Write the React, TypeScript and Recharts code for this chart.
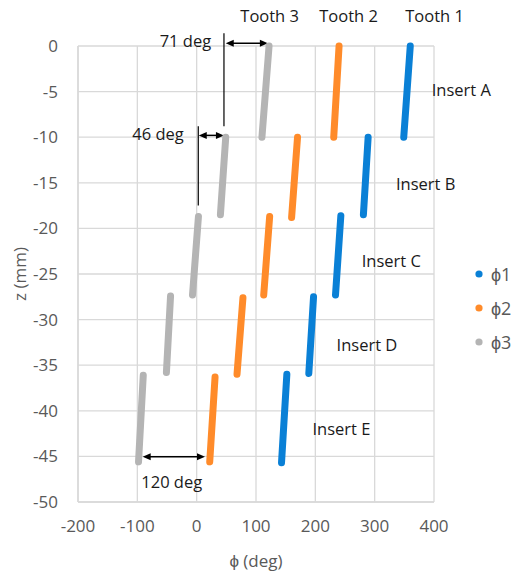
import React from 'react';
import { ScatterChart, Scatter, XAxis, YAxis, CartesianGrid, Legend, ReferenceLine, ReferenceDot } from 'recharts';

// Segment endpoints [phi (deg), z (mm)] for each tooth/insert
const phi1Segments = [
  [{ phi: 349, z: -10 }, { phi: 360, z: 0 }],
  [{ phi: 281, z: -18.5 }, { phi: 289, z: -10 }],
  [{ phi: 234, z: -27.3 }, { phi: 243, z: -18.6 }],
  [{ phi: 189, z: -35.9 }, { phi: 197, z: -27.5 }],
  [{ phi: 143, z: -45.7 }, { phi: 152, z: -36 }],
];
const phi2Segments = [
  [{ phi: 231, z: -10 }, { phi: 240, z: 0 }],
  [{ phi: 160, z: -18.8 }, { phi: 170, z: -10 }],
  [{ phi: 113, z: -27.3 }, { phi: 123, z: -18.7 }],
  [{ phi: 68, z: -36 }, { phi: 78, z: -27.6 }],
  [{ phi: 22, z: -45.6 }, { phi: 31, z: -36.3 }],
];
const phi3Segments = [
  [{ phi: 110, z: -10 }, { phi: 122, z: 0 }],
  [{ phi: 40, z: -18.5 }, { phi: 49, z: -10 }],
  [{ phi: -7, z: -27.3 }, { phi: 3, z: -18.7 }],
  [{ phi: -51, z: -35.8 }, { phi: -44, z: -27.4 }],
  [{ phi: -98, z: -45.6 }, { phi: -90, z: -36.1 }],
];
const seriesNames = ['ϕ1', 'ϕ2', 'ϕ3'];
const seriesColors = ['#0A80D6', '#FF8B2A', '#B4B4B4'];

const xTicks = [-200, -100, 0, 100, 200, 300, 400];
const yTicks = [0, -5, -10, -15, -20, -25, -30, -35, -40, -45, -50];

// Text annotations [phi, z, text]
const toothLabels = [
  { phi: 123, z: 3.3, text: 'Tooth 3' },
  { phi: 256, z: 3.3, text: 'Tooth 2' },
  { phi: 401, z: 3.3, text: 'Tooth 1' },
];
const insertLabels = [
  { phi: 446, z: -4.8, text: 'Insert A' },
  { phi: 386, z: -15.1, text: 'Insert B' },
  { phi: 328, z: -23.5, text: 'Insert C' },
  { phi: 287, z: -32.7, text: 'Insert D' },
  { phi: 244, z: -41.9, text: 'Insert E' },
];
const angleLabels = [
  { phi: -19, z: 0.6, text: '71 deg' },
  { phi: -65, z: -9.6, text: '46 deg' },
  { phi: -42, z: -47.8, text: '120 deg' },
];
// Double-headed arrows
const arrows = [
  { from: { phi: 49, z: 0.3 }, to: { phi: 120, z: 0.3 } },
  { from: { phi: 3.5, z: -9.8 }, to: { phi: 46, z: -9.8 } },
  { from: { phi: -91, z: -45.05 }, to: { phi: 14, z: -45.05 } },
];
// Vertical guide lines
const guides = [
  { phi: 46, zTop: 1.4, zBottom: -8.8 },
  { phi: 2.7, zTop: -8.8, zBottom: -17.5 },
];

const FONT = '"Open Sans", sans-serif';
const TEXT_COLOR = '#1a1a1a';
const AXIS_TEXT = '#595959';

const ArrowShape = (props: any) => {
  const { x1, y1, x2, y2 } = props;
  const L = 8;
  const W = 3.5;
  const dir = x2 > x1 ? 1 : -1;
  return (
    <g>
      <line x1={x1 + dir * 4} y1={y1} x2={x2 - dir * 4} y2={y2} stroke="#000" strokeWidth={1.5} />
      <polygon points={`${x1},${y1} ${x1 + dir * L},${y1 - W} ${x1 + dir * L},${y1 + W}`} fill="#000" />
      <polygon points={`${x2},${y2} ${x2 - dir * L},${y2 - W} ${x2 - dir * L},${y2 + W}`} fill="#000" />
    </g>
  );
};

const GuideShape = (props: any) => {
  const { x1, y1, x2, y2 } = props;
  return <line x1={x1} y1={y1} x2={x2} y2={y2} stroke="#000" strokeWidth={1.2} />;
};

const makeTextShape = (text: string) => (props: any) => {
  const { cx, cy } = props;
  return (
    <text x={cx} y={cy} textAnchor="middle" dominantBaseline="central" fontFamily={FONT} fontSize={16.5} fill={TEXT_COLOR}>
      {text}
    </text>
  );
};

const LegendContent = (props: any) => {
  const items = (props.payload || []).filter((p: any) => p.type !== 'none');
  return (
    <ul style={{ listStyle: 'none', margin: 0, padding: 0 }}>
      {items.map((p: any, i: number) => (
        <li key={i} style={{ display: 'flex', alignItems: 'center', height: 34, whiteSpace: 'nowrap' }}>
          <svg width={8} height={8} style={{ marginRight: 8 }}>
            <circle cx={4} cy={4} r={3.6} fill={p.color} />
          </svg>
          <span style={{ color: AXIS_TEXT, fontFamily: FONT, fontSize: 18 }}>{p.value}</span>
        </li>
      ))}
    </ul>
  );
};

const allSegments = [phi1Segments, phi2Segments, phi3Segments];

export default function App() {
  const scatters: React.ReactNode[] = [];
  // first segment of each series carries the legend entry
  for (let s = 0; s < 3; s++) {
    allSegments[s].forEach((seg, i) => {
      scatters.push(
        <Scatter
          key={`s${s}-${i}`}
          name={seriesNames[s]}
          data={seg}
          fill={seriesColors[s]}
          line={{ stroke: seriesColors[s], strokeWidth: 7, strokeLinecap: 'round' }}
          shape={() => <g />}
          legendType={i === 0 ? 'circle' : 'none'}
          isAnimationActive={false}
        />
      );
    });
  }

  return (
    <div style={{ position: 'absolute', left: 0, top: 0, background: '#fff' }}>
      <ScatterChart width={515} height={572} margin={{ top: 46, right: 81, bottom: 9, left: 18 }}>
        <CartesianGrid stroke="#d9d9d9" strokeWidth={1.3} />
        <XAxis
          type="number"
          dataKey="phi"
          domain={[-200, 400]}
          ticks={xTicks}
          height={61}
          tickLine={false}
          tickSize={10}
          tickMargin={8}
          axisLine={{ stroke: '#d9d9d9', strokeWidth: 1.5 }}
          tick={{ fill: AXIS_TEXT, fontSize: 17, fontFamily: FONT }}
          label={{
            content: (p: any) => {
              const vb = p.viewBox;
              return (
                <text x={vb.x + vb.width / 2} y={560} textAnchor="middle" dominantBaseline="central" fontFamily={FONT} fontSize={17} fill={AXIS_TEXT}>
                  ϕ (deg)
                </text>
              );
            },
          }}
        />
        <YAxis
          type="number"
          dataKey="z"
          domain={[-50, 0]}
          ticks={yTicks}
          width={60}
          tickLine={false}
          tickSize={10}
          tickMargin={10}
          axisLine={{ stroke: '#d9d9d9', strokeWidth: 1.5 }}
          tick={{ fill: AXIS_TEXT, fontSize: 17, fontFamily: FONT }}
          label={{
            content: (p: any) => {
              const vb = p.viewBox;
              const x = 19;
              const y = vb.y + vb.height / 2;
              return (
                <text x={x} y={y} transform={`rotate(-90, ${x}, ${y})`} textAnchor="middle" dominantBaseline="central" fontFamily={FONT} fontSize={17} fill={AXIS_TEXT}>
                  z (mm)
                </text>
              );
            },
          }}
        />
        <Legend
          layout="vertical"
          align="center"
          verticalAlign="middle"
          wrapperStyle={{ left: 475, top: 257, width: 60 }}
          content={LegendContent}
        />
        {scatters}
        {guides.map((g, i) => (
          <ReferenceLine
            key={`g${i}`}
            segment={[{ x: g.phi, y: g.zTop }, { x: g.phi, y: g.zBottom }]}
            ifOverflow="visible"
            shape={GuideShape}
          />
        ))}
        {arrows.map((a, i) => (
          <ReferenceLine
            key={`a${i}`}
            segment={[{ x: a.from.phi, y: a.from.z }, { x: a.to.phi, y: a.to.z }]}
            ifOverflow="visible"
            shape={ArrowShape}
          />
        ))}
        {[...toothLabels, ...insertLabels, ...angleLabels].map((t, i) => (
          <ReferenceDot key={`t${i}`} x={t.phi} y={t.z} r={0} ifOverflow="visible" shape={makeTextShape(t.text)} />
        ))}
      </ScatterChart>
    </div>
  );
}
